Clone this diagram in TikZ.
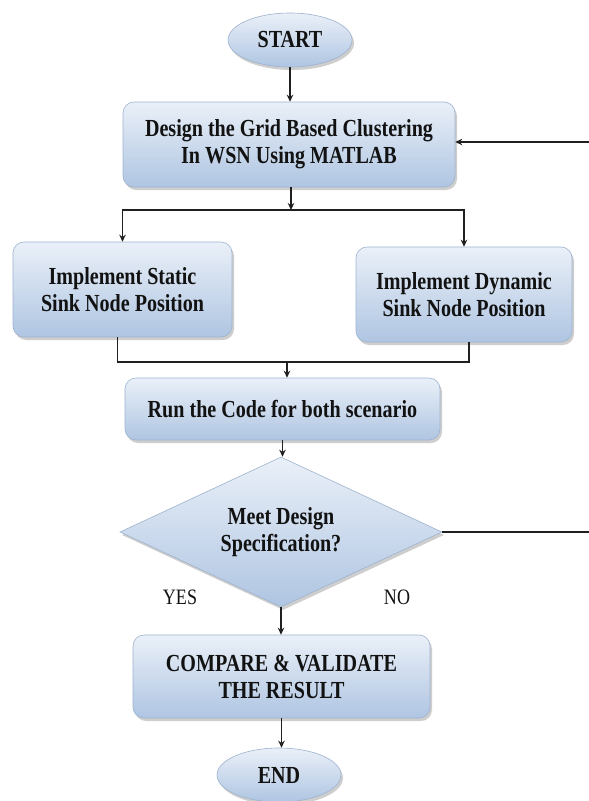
\documentclass[tikz,border=0pt]{standalone}
\usepackage{fontspec}
\setmainfont{Liberation Serif}[FakeStretch=0.82]
\usetikzlibrary{shapes.geometric,shadows,calc,arrows.meta}
\definecolor{boxtop}{HTML}{EAF0F8}
\definecolor{boxbot}{HTML}{AFC5E2}
\definecolor{boxline}{HTML}{9DB3CE}
\definecolor{linec}{HTML}{202020}
\definecolor{textc}{HTML}{121212}
\begin{document}
\begin{tikzpicture}[x=1pt,y=-1pt,
  shape base/.style={draw=boxline, line width=0.6pt, top color=boxtop, bottom color=boxbot,
    drop shadow={shadow xshift=2pt, shadow yshift=-3pt, opacity=0.35, fill=black!55},
    font=\bfseries\fontsize{24.5}{27}\selectfont, align=center, text=textc, inner sep=0pt},
  box/.style={shape base, rectangle, rounded corners=11pt},
  ell/.style={shape base, ellipse, minimum width=124pt, minimum height=54pt},
  dia/.style={shape base, diamond, aspect=2.15, minimum width=322pt, minimum height=150pt},
  lab/.style={font=\fontsize{22}{24}\selectfont, text=textc, inner sep=0pt},
  arr/.style={-{Stealth[length=7pt,width=6.5pt]}, line width=1.1pt, draw=linec},
  plain/.style={line width=1.1pt, draw=linec}]
\useasboundingbox (0,0) rectangle (589,801);
\fill[white] (0,0) rectangle (589,801);

\node[ell] (start) at (290,40) {START};
\node[box, minimum width=332pt, minimum height=85pt] (design) at (289,144.5)
  {Design the Grid Based Clustering\\In WSN Using MATLAB};
\node[box, minimum width=219pt, minimum height=95pt] (static) at (122.5,289.5)
  {Implement Static\\Sink Node Position};
\node[box, minimum width=216pt, minimum height=95pt] (dynamic) at (464,294.5)
  {Implement Dynamic\\Sink Node Position};
\node[box, minimum width=315pt, minimum height=62pt] (run) at (282.5,409)
  {Run the Code for both scenario};
\node[dia] (meet) at (281,532) {Meet Design\\Specification?};
\node[box, minimum width=297pt, minimum height=83pt] (compare) at (281.5,676.5)
  {COMPARE \& VALIDATE\\THE RESULT};
\node[ell] (end) at (279,775) {END};
\node[lab] (yes) at (180,597) {YES};
\node[lab] (no) at (397,597) {NO};

\coordinate (split) at (291,210);
\coordinate (merge) at (287,362);
\coordinate (fbin) at (589,142);
\coordinate (noout) at (589,535);

\draw[arr] (start.south) -- (start.south |- design.north);
\draw[arr] (design.south -| split) -- (split);
\draw[arr] (split) -| (static.north);
\draw[arr] (split) -| (dynamic.north);
\draw[plain] ([xshift=-5pt]static.south) |- (merge) -| ([xshift=5pt]dynamic.south);
\draw[arr] (merge) -- (merge |- run.north);
\draw[arr] (run.south) -- (run.south |- meet.north);
\draw[arr] (meet.south) -- (meet.south |- compare.north);
\draw[arr] (compare.south) -- (compare.south |- end.north);
\draw[plain] (meet.east) -- (meet.east -| noout);
\draw[arr] (fbin) -- (fbin -| design.east);
\end{tikzpicture}
\end{document}
